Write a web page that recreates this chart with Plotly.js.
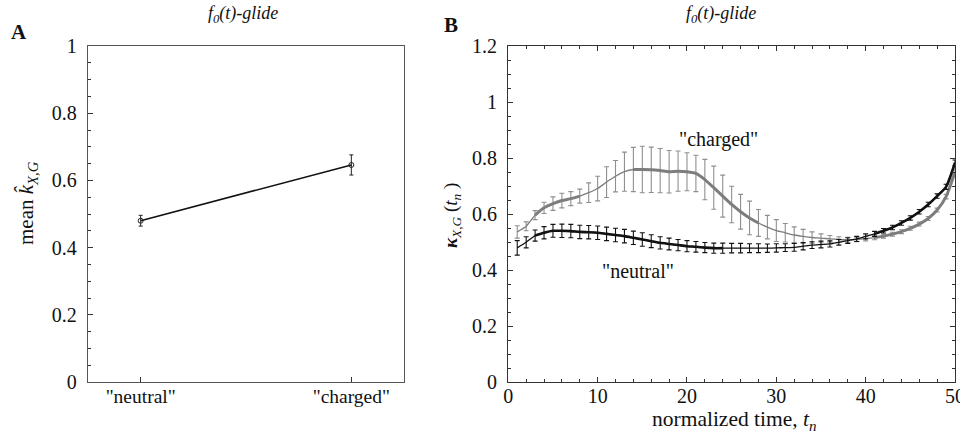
<!DOCTYPE html>
<html><head><meta charset="utf-8">
<script src="https://cdn.plot.ly/plotly-3.0.1.min.js"></script>
<style>html,body{margin:0;padding:0;background:#fff}#plot{width:960px;height:433px}</style>
</head><body><div id="plot"></div>
<script>
// Panel A
const catsA = ['"neutral"', '"charged"'];
const meanA = [0.48, 0.646];
const errA = [0.016, 0.03];

// Panel B
const tn = [];
for (let i = 1; i <= 50; i++) tn.push(i);
const charged = [0.536,0.556,0.596,0.622,0.637,0.648,0.655,0.664,0.676,0.691,
                 0.714,0.735,0.751,0.759,0.759,0.758,0.755,0.751,0.753,0.751,
                 0.745,0.723,0.694,0.664,0.634,0.608,0.586,0.568,0.553,0.541,
                 0.533,0.525,0.520,0.516,0.514,0.511,0.509,0.508,0.509,0.512,
                 0.516,0.521,0.528,0.537,0.549,0.564,0.584,0.614,0.662,0.750];
const chargedErr = [0.022,0.016,0.016,0.02,0.024,0.026,0.025,0.025,0.035,0.044,
                    0.055,0.056,0.07,0.079,0.083,0.081,0.079,0.076,0.072,0.068,
                    0.065,0.072,0.077,0.075,0.065,0.062,0.06,0.048,0.042,0.039,
                    0.033,0.029,0.025,0.02,0.015,0.012,0.01,0.009,0.008,0.008,
                    0.008,0.007,0.007,0.007,0.007,0.007,0.007,0.007,0.008,0.01];
const neutral = [0.479,0.499,0.523,0.533,0.540,0.540,0.539,0.536,0.535,0.533,
                 0.529,0.525,0.521,0.515,0.509,0.503,0.497,0.493,0.489,0.485,
                 0.483,0.480,0.478,0.478,0.478,0.478,0.478,0.478,0.478,0.479,
                 0.480,0.481,0.485,0.489,0.491,0.493,0.499,0.505,0.511,0.520,
                 0.529,0.540,0.552,0.568,0.586,0.608,0.634,0.664,0.697,0.783];
const neutralErr = [0.026,0.02,0.02,0.022,0.023,0.024,0.024,0.024,0.024,0.024,
                    0.024,0.024,0.024,0.024,0.024,0.023,0.022,0.021,0.02,0.02,
                    0.019,0.018,0.018,0.018,0.017,0.017,0.016,0.016,0.015,0.015,
                    0.014,0.014,0.013,0.012,0.012,0.011,0.01,0.01,0.009,0.009,
                    0.009,0.008,0.008,0.008,0.008,0.008,0.008,0.008,0.009,0.01];
const chargedThick = [[3,8],[14,28],[41,50]];
const neutralThick = [[3,24],[41,50]];

function thickY(y, ranges){
  return tn.map((t,i)=> ranges.some(r=>t>=r[0]&&t<=r[1]) ? y[i] : null);
}

const serif = 'Liberation Serif, Times New Roman, serif';
const grayLine = '#7d7d7d';
const traces = [
  {x: catsA, y: meanA, type:'scatter', mode:'lines+markers', xaxis:'x', yaxis:'y',
   line:{color:'#111', width:1.6},
   marker:{symbol:'circle-open', size:5, color:'#222', line:{width:1}},
   error_y:{type:'data', array:errA, visible:true, color:'#222', thickness:1, width:2},
   showlegend:false, hoverinfo:'skip'},
  {x: tn, y: charged, type:'scatter', mode:'lines', xaxis:'x2', yaxis:'y2',
   line:{color:grayLine, width:1.3, shape:'spline', smoothing:0.6},
   error_y:{type:'data', array:chargedErr, visible:true, color:'#8f8f8f', thickness:1.1, width:2.5},
   showlegend:false, hoverinfo:'skip'},
  {x: tn, y: thickY(charged, chargedThick), type:'scatter', mode:'lines', xaxis:'x2', yaxis:'y2',
   line:{color:grayLine, width:3, shape:'spline', smoothing:0.6}, connectgaps:false,
   showlegend:false, hoverinfo:'skip'},
  {x: tn, y: neutral, type:'scatter', mode:'lines', xaxis:'x2', yaxis:'y2',
   line:{color:'#111', width:1.3, shape:'spline', smoothing:0.6},
   error_y:{type:'data', array:neutralErr, visible:true, color:'#111', thickness:1.1, width:2.5},
   showlegend:false, hoverinfo:'skip'},
  {x: tn, y: thickY(neutral, neutralThick), type:'scatter', mode:'lines', xaxis:'x2', yaxis:'y2',
   line:{color:'#111', width:2.6, shape:'spline', smoothing:0.6}, connectgaps:false,
   showlegend:false, hoverinfo:'skip'}
];

const axCol = '#555';
const tfy = {family:serif, size:20, color:'#111'};
const tfx = {family:serif, size:19.5, color:'#111'};
const layout = {
  width:960, height:433,
  margin:{l:0,r:0,t:0,b:0},
  paper_bgcolor:'#fff', plot_bgcolor:'#fff',
  font:{family:serif, size:19, color:'#111'},
  showlegend:false,
  xaxis:{domain:[88/960, 404/960], type:'category', range:[-0.25,1.25], anchor:'y',
    showline:true, linecolor:axCol, linewidth:1.3, mirror:true, ticks:'inside', ticklen:5,
    tickcolor:'#333', showgrid:false, zeroline:false, tickfont:tfx, ticklabelstandoff:-4},
  yaxis:{domain:[51/433, 387/433], range:[0,1], anchor:'x',
    tickvals:[0,0.2,0.4,0.6,0.8,1], ticktext:['0','0.2','0.4','0.6','0.8','1'],
    showline:true, linecolor:axCol, linewidth:1.3, mirror:true, ticks:'inside', ticklen:5,
    tickcolor:'#333', minor:{dtick:0.05, ticks:'inside', ticklen:3, tickcolor:'#333'},
    showgrid:false, zeroline:false, tickfont:tfy, ticklabelstandoff:6},
  xaxis2:{domain:[508.3/960, 955/960], range:[0,50], anchor:'y2',
    tickvals:[0,10,20,30,40,50], ticklabeloverflow:'allow',
    showline:true, linecolor:'#333', linewidth:1.3, mirror:'ticks', ticks:'inside', ticklen:5,
    tickcolor:'#333', minor:{dtick:2, ticks:'inside', ticklen:3, tickcolor:'#333'},
    showgrid:false, zeroline:false, tickfont:tfy, ticklabelstandoff:-4},
  yaxis2:{domain:[51/433, 387/433], range:[0,1.2], anchor:'x2',
    tickvals:[0,0.2,0.4,0.6,0.8,1,1.2], ticktext:['0','0.2','0.4','0.6','0.8','1','1.2'],
    showline:true, linecolor:'#333', linewidth:1.3, mirror:'ticks', ticks:'inside', ticklen:5,
    tickcolor:'#333', minor:{dtick:0.05, ticks:'inside', ticklen:3, tickcolor:'#333'},
    showgrid:false, zeroline:false, tickfont:tfy, ticklabelstandoff:6},
  annotations:[
    {text:'<b>A</b>', xref:'paper', yref:'paper', x:9/960, y:(433-32)/433, xanchor:'left', yanchor:'middle', showarrow:false, font:{family:serif,size:21}},
    {text:'<b>B</b>', xref:'paper', yref:'paper', x:442/960, y:(433-25)/433, xanchor:'left', yanchor:'middle', showarrow:false, font:{family:serif,size:21}},
    {text:'<i>f<sub>0</sub>(t)-glide</i>', xref:'paper', yref:'paper', x:243/960, y:(433-15)/433, xanchor:'center', yanchor:'middle', showarrow:false, font:{family:serif,size:18}},
    {text:'<i>f<sub>0</sub>(t)-glide</i>', xref:'paper', yref:'paper', x:721/960, y:(433-15)/433, xanchor:'center', yanchor:'middle', showarrow:false, font:{family:serif,size:18}},
    {text:'normalized time, <i>t<sub>n</sub></i>', xref:'paper', yref:'paper', x:734/960, y:(433-420)/433, xanchor:'center', yanchor:'middle', showarrow:false, font:{family:serif,size:21.5}},
    {text:'mean <i>k̂</i><sub><i>X,G</i></sub>', xref:'paper', yref:'paper', x:27/960, y:(433-203)/433, xanchor:'center', yanchor:'middle', textangle:-90, showarrow:false, font:{family:serif,size:21}},
    {text:'<b><i>κ</i></b><sub><i>X,G</i></sub> (<i>t<sub>n</sub></i> )', xref:'paper', yref:'paper', x:452/960, y:(433-216)/433, xanchor:'center', yanchor:'middle', textangle:-90, showarrow:false, font:{family:serif,size:19}},
    {text:'"charged"', xref:'x2', yref:'y2', x:23.5, y:0.865, xanchor:'center', yanchor:'middle', showarrow:false, font:{family:serif,size:20}},
    {text:'"neutral"', xref:'x2', yref:'y2', x:14.5, y:0.395, xanchor:'center', yanchor:'middle', showarrow:false, font:{family:serif,size:20}}
  ]
};
Plotly.newPlot('plot', traces, layout, {staticPlot:true, displayModeBar:false});
</script></body></html>
